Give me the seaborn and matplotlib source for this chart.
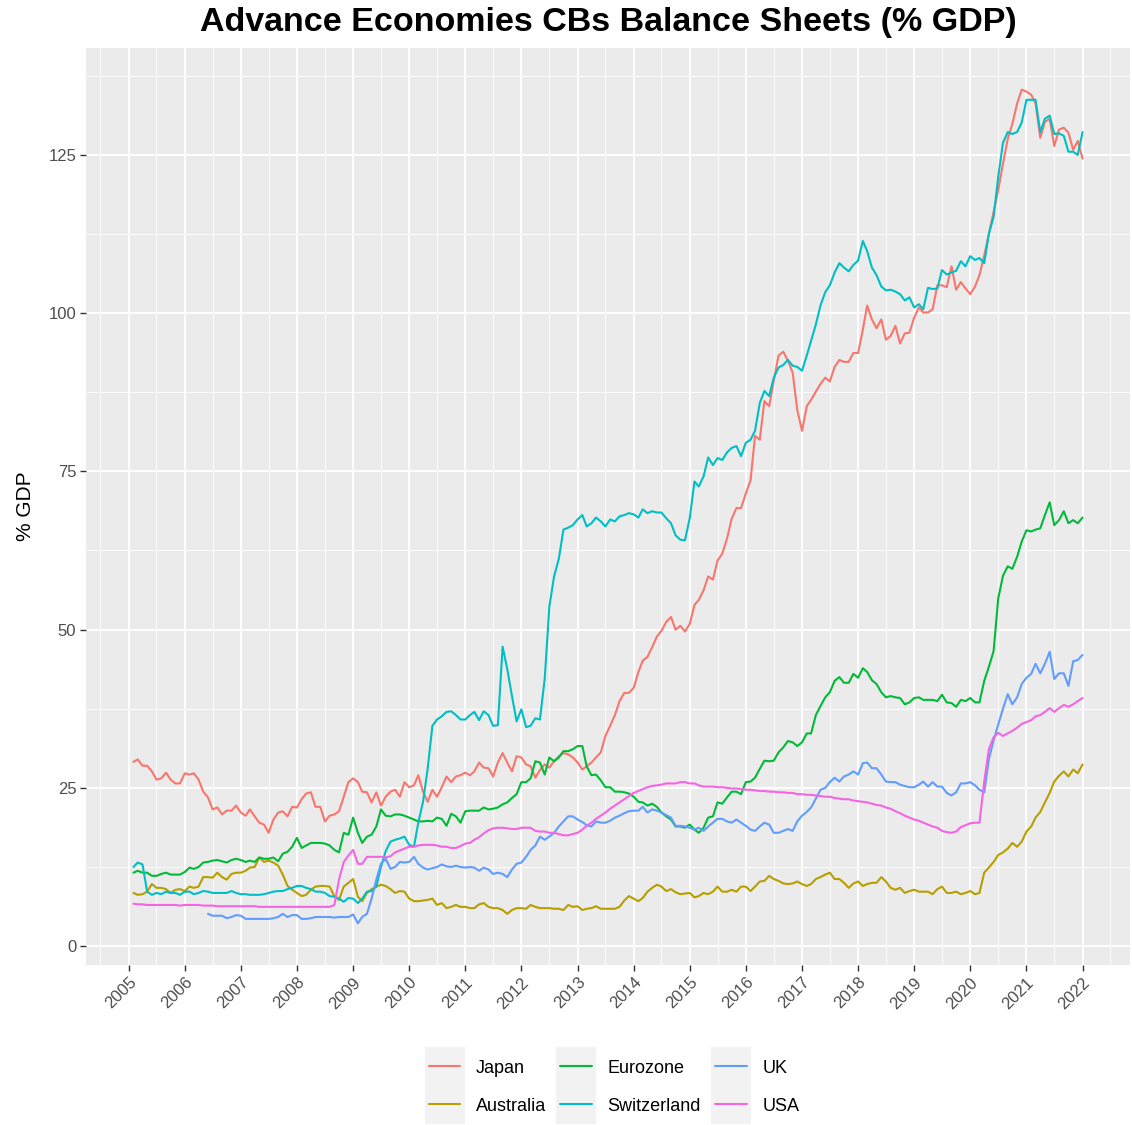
import numpy as np
import pandas as pd
import seaborn as sns
import matplotlib.pyplot as plt
import matplotlib.dates as mdates
from matplotlib.lines import Line2D
from matplotlib.patches import Rectangle
from matplotlib.ticker import MultipleLocator

# monthly observations, Feb 2005 .. Jan 2022
months = pd.date_range("2005-02-01", "2022-01-01", freq="MS")

japan = [
    29.1, 29.5, 28.5, 28.5, 27.6, 26.3, 26.5, 27.4, 26.3, 25.7, 25.7, 27.3,
    27.1, 27.3, 26.3, 24.4, 23.5, 21.6, 21.9, 20.8, 21.4, 21.4, 22.2, 21.1,
    20.6, 21.6, 20.5, 19.5, 19.2, 17.9, 20.0, 21.1, 21.3, 20.5, 22.0, 21.9,
    23.2, 24.1, 24.3, 22.0, 22.0, 19.7, 20.6, 20.8, 21.3, 23.6, 25.9, 26.5,
    25.9, 24.4, 24.3, 22.7, 24.3, 22.2, 23.6, 24.4, 24.7, 23.6, 25.9, 25.1,
    25.4, 27.0, 24.4, 22.8, 24.7, 23.6, 25.1, 26.8, 25.9, 26.8, 27.0, 27.4,
    27.0, 27.6, 29.0, 28.2, 28.1, 26.8, 29.0, 30.5, 29.0, 27.6, 30.0, 29.8,
    28.7, 28.4, 26.6, 27.8, 28.7, 28.2, 29.2, 30.0, 30.5, 30.3, 29.8, 29.0,
    27.9, 28.4, 29.0, 29.8, 30.6, 33.2, 34.8, 36.5, 38.7, 40.0, 40.0, 40.8,
    43.3, 45.1, 45.7, 47.2, 48.9, 49.8, 51.2, 52.0, 50.0, 50.6, 49.7, 50.9,
    53.9, 54.7, 56.2, 58.4, 57.9, 60.9, 62.0, 64.4, 67.5, 69.2, 69.2, 71.5,
    73.6, 80.6, 80.0, 86.1, 85.3, 89.3, 93.3, 93.9, 92.5, 90.6, 84.7, 81.4,
    85.3, 86.3, 87.6, 88.8, 89.8, 89.2, 91.5, 92.6, 92.3, 92.3, 93.7, 93.7,
    97.4, 101.2, 99.0, 97.6, 99.0, 95.8, 96.4, 98.0, 95.2, 96.8, 96.9, 99.3,
    100.9, 100.1, 100.1, 100.6, 104.4, 104.4, 104.1, 107.4, 103.7, 104.9, 103.9, 103.0,
    104.2, 106.0, 109.1, 112.5, 116.0, 119.4, 123.6, 127.5, 129.9, 133.1, 135.3, 135.0,
    134.5, 133.1, 127.7, 130.2, 130.7, 126.4, 129.0, 129.3, 128.5, 125.8, 127.2, 124.4,
]

australia = [
    8.4, 8.1, 8.2, 8.6, 9.8, 9.2, 9.2, 9.0, 8.4, 8.9, 9.0, 8.7,
    9.4, 9.2, 9.4, 10.9, 10.9, 10.8, 11.6, 10.9, 10.5, 11.4, 11.6, 11.6,
    11.9, 12.4, 12.5, 14.0, 13.3, 13.5, 13.2, 12.7, 11.3, 9.5, 8.9, 8.4,
    7.9, 8.1, 8.9, 9.4, 9.5, 9.5, 9.4, 7.9, 7.3, 9.4, 10.0, 10.6,
    7.8, 7.1, 8.4, 9.0, 9.4, 9.7, 9.5, 9.0, 8.4, 8.7, 8.6, 7.5,
    7.1, 7.1, 7.2, 7.3, 7.5, 6.5, 6.8, 6.0, 6.2, 6.5, 6.2, 6.2,
    6.0, 6.0, 6.6, 6.8, 6.2, 6.0, 6.0, 5.7, 5.1, 5.7, 6.0, 6.0,
    5.9, 6.5, 6.2, 6.0, 6.0, 6.0, 5.9, 5.9, 5.7, 6.5, 6.2, 6.3,
    5.7, 5.9, 6.0, 6.3, 5.9, 5.9, 5.9, 5.9, 6.2, 7.2, 7.9, 7.5,
    7.1, 7.6, 8.6, 9.2, 9.7, 9.4, 8.7, 9.0, 8.5, 8.2, 8.3, 8.4,
    7.7, 7.9, 8.4, 8.2, 8.6, 9.4, 8.6, 8.6, 8.9, 8.6, 9.4, 9.4,
    8.7, 9.4, 10.2, 10.3, 11.1, 10.6, 10.3, 9.9, 9.8, 9.9, 10.2, 9.8,
    9.5, 9.8, 10.6, 10.9, 11.3, 11.6, 10.6, 10.6, 10.0, 9.2, 9.9, 10.2,
    9.5, 9.8, 10.0, 10.0, 10.9, 10.2, 9.2, 8.9, 9.2, 8.4, 8.7, 8.9,
    8.6, 8.6, 8.6, 8.2, 9.0, 9.4, 8.4, 8.4, 8.6, 8.2, 8.4, 8.7,
    8.2, 8.4, 11.6, 12.4, 13.3, 14.4, 14.8, 15.4, 16.3, 15.7, 16.5, 18.1,
    18.9, 20.3, 21.2, 22.7, 24.2, 26.0, 26.9, 27.6, 26.8, 27.9, 27.3, 28.7,
]

eurozone = [
    11.6, 11.9, 11.6, 11.6, 11.1, 11.1, 11.4, 11.6, 11.3, 11.3, 11.3, 11.7,
    12.4, 12.2, 12.5, 13.2, 13.3, 13.5, 13.6, 13.4, 13.2, 13.6, 13.8, 13.6,
    13.3, 13.5, 13.3, 14.0, 13.8, 13.8, 14.0, 13.4, 14.6, 14.9, 15.7, 17.1,
    15.5, 15.9, 16.3, 16.3, 16.3, 16.2, 15.9, 15.2, 14.8, 17.9, 17.6, 20.3,
    17.9, 16.3, 17.3, 17.6, 18.9, 21.6, 20.6, 20.5, 20.8, 20.8, 20.6, 20.3,
    20.0, 19.7, 19.7, 19.8, 19.7, 20.3, 20.1, 19.0, 20.9, 20.5, 19.5, 21.3,
    21.4, 21.4, 21.4, 21.9, 21.6, 21.7, 21.9, 22.4, 22.7, 23.4, 24.0, 25.9,
    25.9, 26.5, 29.2, 29.0, 27.1, 29.8, 29.2, 29.8, 30.8, 30.8, 31.1, 31.6,
    31.6, 28.4, 27.0, 27.1, 26.2, 25.1, 25.1, 24.4, 24.4, 24.3, 24.1, 23.6,
    22.8, 22.7, 22.2, 22.5, 22.0, 21.1, 20.5, 20.0, 18.9, 18.9, 18.7, 19.2,
    18.4, 17.9, 18.7, 20.3, 20.5, 22.7, 22.5, 23.5, 24.4, 24.4, 24.0, 25.9,
    26.0, 26.6, 28.0, 29.3, 29.2, 29.3, 30.6, 31.4, 32.4, 32.2, 31.6, 32.2,
    33.6, 33.6, 36.5, 37.9, 39.3, 40.1, 41.9, 42.5, 41.6, 41.6, 43.0, 42.4,
    43.9, 43.3, 42.0, 41.4, 40.1, 39.3, 39.5, 39.3, 39.2, 38.2, 38.5, 39.2,
    39.3, 38.9, 38.9, 38.9, 38.7, 39.7, 38.5, 38.4, 37.8, 38.9, 38.7, 39.2,
    38.5, 38.5, 41.9, 44.1, 46.6, 54.9, 58.5, 60.0, 59.6, 61.5, 63.9, 65.7,
    65.5, 65.8, 66.0, 68.1, 70.1, 66.5, 67.3, 68.7, 66.8, 67.3, 66.8, 67.7,
]

switzerland = [
    12.5, 13.2, 12.9, 8.6, 8.1, 8.4, 8.2, 8.6, 8.4, 8.4, 8.1, 8.6,
    8.6, 8.2, 8.4, 8.7, 8.6, 8.4, 8.4, 8.4, 8.4, 8.7, 8.4, 8.2,
    8.2, 8.1, 8.1, 8.1, 8.2, 8.4, 8.6, 8.7, 8.7, 9.0, 9.2, 9.5,
    9.5, 9.2, 9.0, 8.6, 8.6, 8.4, 7.9, 7.8, 7.5, 7.0, 7.6, 7.5,
    6.8, 7.5, 8.6, 8.7, 9.4, 12.5, 15.0, 16.5, 16.8, 17.0, 17.3, 16.0,
    15.7, 19.5, 22.8, 28.0, 34.8, 35.8, 36.3, 37.0, 37.1, 36.5, 35.8, 35.8,
    36.5, 37.0, 35.7, 37.1, 36.5, 34.8, 34.9, 47.3, 43.8, 39.5, 35.5, 37.4,
    34.6, 34.8, 36.0, 35.8, 42.2, 53.6, 58.4, 61.2, 65.8, 66.1, 66.5, 67.4,
    68.1, 66.3, 66.8, 67.7, 67.1, 66.3, 67.4, 67.1, 67.9, 68.1, 68.4, 68.2,
    67.7, 69.0, 68.4, 68.7, 68.5, 68.5, 67.6, 66.8, 64.9, 64.2, 64.1, 67.6,
    73.4, 72.6, 74.2, 77.2, 76.0, 77.1, 76.8, 78.0, 78.7, 79.0, 77.4, 79.5,
    80.0, 81.4, 85.8, 87.7, 86.9, 89.8, 91.4, 91.8, 92.6, 91.7, 91.5, 90.9,
    93.3, 95.6, 98.2, 101.2, 103.3, 104.4, 106.4, 107.9, 107.2, 106.6, 107.6, 108.3,
    111.4, 109.8, 107.2, 106.0, 104.2, 103.6, 103.7, 103.4, 103.0, 102.0, 102.5, 100.9,
    101.4, 100.6, 104.0, 103.8, 103.9, 106.8, 106.1, 106.4, 106.7, 108.2, 107.4, 109.0,
    108.4, 108.7, 107.9, 112.5, 115.2, 121.5, 126.9, 128.6, 128.3, 128.6, 130.1, 133.7,
    133.7, 133.7, 128.6, 130.7, 131.2, 128.3, 128.4, 128.0, 125.5, 125.5, 125.0, 128.6,
]

# UK series only starts in mid 2006
uk_months = months[16:]
uk = [
    5.1, 4.8, 4.8, 4.8, 4.4, 4.6, 4.9, 4.8,
    4.3, 4.3, 4.3, 4.3, 4.3, 4.3, 4.4, 4.6, 5.1, 4.6, 4.9, 4.9,
    4.3, 4.3, 4.4, 4.6, 4.6, 4.6, 4.6, 4.5, 4.6, 4.6, 4.6, 5.0,
    3.6, 4.6, 5.1, 7.5, 10.5, 13.0, 13.8, 12.2, 12.5, 13.3, 13.2, 13.3,
    14.1, 13.0, 12.4, 12.1, 12.3, 12.5, 12.9, 12.6, 12.5, 12.7, 12.5, 12.4,
    12.5, 12.4, 11.9, 12.4, 12.1, 11.4, 11.6, 11.4, 10.9, 12.1, 13.0, 13.2,
    14.1, 15.2, 15.9, 17.3, 16.8, 17.3, 17.9, 18.9, 19.7, 20.5, 20.5, 20.0,
    19.6, 19.1, 18.9, 19.7, 19.5, 19.5, 19.8, 20.3, 20.6, 21.0, 21.3, 21.4,
    21.4, 22.0, 21.1, 21.6, 21.4, 21.1, 20.7, 20.3, 19.0, 19.0, 18.9, 18.7,
    18.4, 18.7, 18.2, 18.9, 19.5, 20.1, 20.1, 19.7, 19.5, 20.0, 19.5, 19.0,
    18.4, 18.2, 18.9, 19.5, 19.2, 17.9, 17.9, 18.2, 18.5, 18.2, 19.7, 20.6,
    21.2, 21.9, 23.3, 24.7, 25.0, 25.9, 26.6, 26.0, 26.8, 27.1, 27.6, 27.1,
    28.9, 29.0, 28.1, 28.1, 27.1, 26.0, 25.9, 25.9, 25.5, 25.3, 25.1, 25.1,
    25.5, 26.0, 25.2, 25.9, 25.2, 25.2, 24.2, 23.8, 24.3, 25.7, 25.7, 25.9,
    25.4, 24.7, 24.3, 29.5, 32.5, 35.0, 37.5, 39.8, 38.2, 39.3, 41.4, 42.4,
    43.0, 44.6, 43.1, 44.6, 46.5, 42.2, 43.1, 43.1, 41.1, 45.0, 45.2, 46.0,
]

usa = [
    6.7, 6.6, 6.6, 6.5, 6.5, 6.5, 6.5, 6.5, 6.5, 6.5, 6.4, 6.5,
    6.5, 6.5, 6.5, 6.4, 6.4, 6.4, 6.3, 6.3, 6.3, 6.3, 6.3, 6.3,
    6.3, 6.3, 6.3, 6.2, 6.2, 6.2, 6.2, 6.2, 6.2, 6.2, 6.2, 6.2,
    6.2, 6.2, 6.2, 6.2, 6.2, 6.2, 6.2, 6.5, 10.5, 13.3, 14.3, 15.2,
    13.0, 13.0, 14.1, 14.1, 14.1, 14.1, 14.0, 14.2, 14.8, 15.1, 15.4, 15.7,
    15.7, 15.9, 16.0, 16.0, 16.0, 15.9, 15.7, 15.7, 15.5, 15.5, 15.8, 16.2,
    16.3, 16.8, 17.2, 17.8, 18.3, 18.6, 18.7, 18.7, 18.6, 18.5, 18.5, 18.7,
    18.7, 18.7, 18.2, 18.1, 18.1, 17.9, 17.9, 17.7, 17.5, 17.5, 17.7, 17.9,
    18.4, 19.0, 19.5, 20.1, 20.6, 21.1, 21.7, 22.2, 22.7, 23.2, 23.7, 24.2,
    24.5, 24.8, 25.1, 25.3, 25.4, 25.5, 25.7, 25.7, 25.7, 25.9, 25.9, 25.7,
    25.7, 25.4, 25.2, 25.2, 25.2, 25.1, 25.1, 25.0, 24.9, 24.9, 24.8, 24.7,
    24.7, 24.6, 24.5, 24.5, 24.4, 24.4, 24.3, 24.3, 24.2, 24.2, 24.0, 24.0,
    23.9, 23.9, 23.8, 23.7, 23.6, 23.6, 23.4, 23.3, 23.2, 23.2, 23.0, 22.9,
    22.8, 22.7, 22.5, 22.3, 22.2, 21.9, 21.7, 21.3, 21.0, 20.6, 20.3, 20.0,
    19.8, 19.5, 19.2, 18.9, 18.7, 18.2, 18.0, 17.9, 18.1, 18.8, 19.1, 19.4,
    19.5, 19.5, 26.0, 31.1, 33.0, 33.7, 33.2, 33.6, 34.0, 34.5, 35.1, 35.4,
    35.7, 36.3, 36.5, 37.0, 37.6, 37.0, 37.6, 38.1, 37.8, 38.2, 38.7, 39.2,
]

countries = ["Japan", "Australia", "Eurozone", "Switzerland", "UK", "USA"]
# ggplot2 default hue palette for 6 groups
colors = ["#F8766D", "#B79F00", "#00BA38", "#00BFC4", "#619CFF", "#F564E3"]

series = {
    "Japan": (months, japan),
    "Australia": (months, australia),
    "Eurozone": (months, eurozone),
    "Switzerland": (months, switzerland),
    "UK": (uk_months, uk),
    "USA": (months, usa),
}
frames = [pd.DataFrame({"Date": d, "Value": v, "Country": name})
          for name, (d, v) in series.items()]
df = pd.concat(frames, ignore_index=True)

sns.set_theme(style="darkgrid", rc={"axes.facecolor": "#EBEBEB", "grid.color": "white"})
plt.rcParams["font.family"] = ["Liberation Sans", "DejaVu Sans"]

W, H = 1132, 1125
fig = plt.figure(figsize=(W / 100, H / 100), dpi=100)
fig.patch.set_facecolor("white")
ax = fig.add_axes([86 / W, 1 - 965 / H, (1130 - 86) / W, (965 - 48) / H])

sns.lineplot(data=df, x="Date", y="Value", hue="Country", hue_order=countries,
             palette=colors, estimator=None, sort=False, linewidth=1.5,
             legend=False, ax=ax)

# ggplot-like 5% expansion
first, last = months[0], months[-1]
span = last - first
ax.set_xlim(first - 0.05 * span, last + 0.05 * span)
lo, hi = df["Value"].min(), df["Value"].max()
pad = 0.05 * (hi - lo)
ax.set_ylim(lo - pad, hi + pad)

ax.xaxis.set_major_locator(mdates.YearLocator())
ax.xaxis.set_major_formatter(mdates.DateFormatter("%Y"))
ax.xaxis.set_minor_locator(mdates.MonthLocator(bymonth=7))
ax.yaxis.set_major_locator(MultipleLocator(25))
ax.yaxis.set_minor_locator(MultipleLocator(12.5))

ax.grid(which="major", color="white", linewidth=1.3)
ax.grid(which="minor", color="white", linewidth=0.6)
ax.tick_params(which="major", bottom=True, left=True, length=4, width=1,
               color="#333333", labelcolor="#4D4D4D", labelsize=12, pad=3)
ax.tick_params(which="minor", length=0)
for lab in ax.get_xticklabels():
    lab.set_rotation(45)
    lab.set_ha("right")
    lab.set_va("top")
    lab.set_rotation_mode("anchor")
for s in ax.spines.values():
    s.set_visible(False)

ax.set_xlabel("")
ax.set_ylabel("% GDP", fontsize=15, color="black", labelpad=10)

fig.text(608 / W, 1 - 22 / H, "Advance Economies CBs Balance Sheets (% GDP)",
         ha="center", va="center", fontsize=24.5, fontweight="bold", color="black")

handles = [Line2D([], [], color=c, linewidth=1.5) for c in colors]
leg = fig.legend(handles, countries, loc="lower center", bbox_to_anchor=(614 / W, 0.0),
                 ncol=3, frameon=False, fontsize=13, handlelength=1.75,
                 handletextpad=0.85, columnspacing=0.8, labelspacing=1.16,
                 borderpad=0.08, labelcolor="black")

# grey key backgrounds like ggplot legend keys
fig.canvas.draw()
renderer = fig.canvas.get_renderer()
for h in leg.legend_handles:
    bb = h.get_window_extent(renderer)
    cx, cy = (bb.x0 + bb.x1) / 2, (bb.y0 + bb.y1) / 2
    fig.patches.append(Rectangle(((cx - 20) / W, (cy - 19.5) / H), 40 / W, 39 / H,
                                 transform=fig.transFigure, facecolor="#F2F2F2",
                                 edgecolor="none", zorder=0))

fig.savefig("out.png", dpi=100)
